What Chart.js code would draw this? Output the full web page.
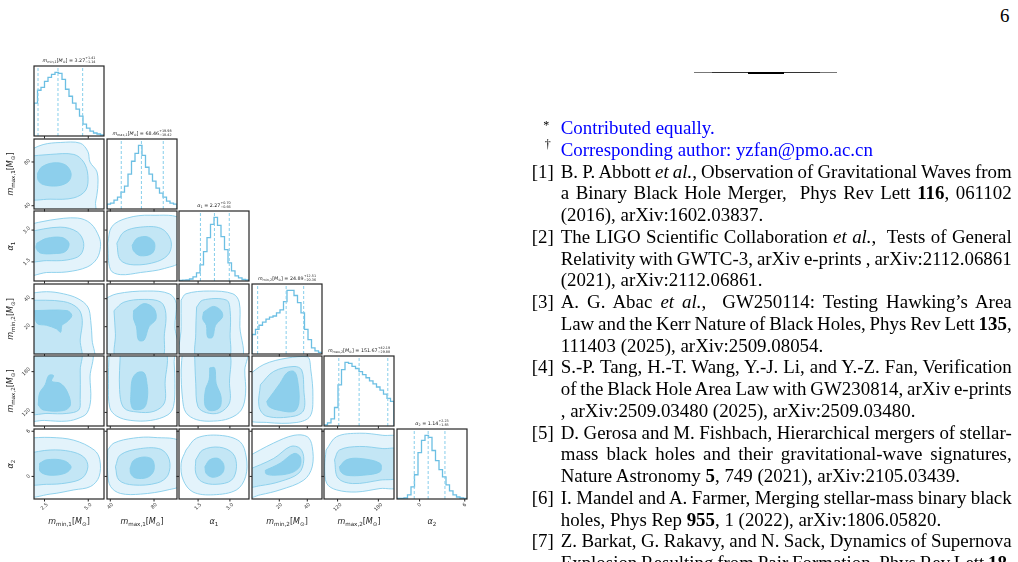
<!DOCTYPE html>
<html>
<head>
<meta charset="utf-8">
<script src="https://cdn.jsdelivr.net/npm/chart.js@4.4.1/dist/chart.umd.min.js"></script>
<style>
  html, body { margin: 0; padding: 0; background: #fff; }
  body { width: 1018px; height: 562px; overflow: hidden; position: relative; }
  #corner { position: absolute; left: 0; top: 0; width: 500px; height: 562px; }
  .panel { position: absolute; }
  .mlab { position: absolute; font-family: 'DejaVu Sans', sans-serif; color: #222; white-space: nowrap;
          transform: translate(-50%, -50%); line-height: 1; z-index: 5; }
  .mlab sub { font-size: 70%; vertical-align: baseline; position: relative; top: 0.3em; }
  .axt { font-size: 8px; }
  .axt.rot { transform: translate(-50%, -50%) rotate(-90deg); }
  .htitle { font-size: 4.8px; }
  .ud { display: inline-block; vertical-align: middle; font-size: 70%; line-height: 1.05; text-align: left; }
  .ud span { display: block; }

  #page { position: absolute; left: 0; top: 0; font-family: 'Liberation Serif', 'Times New Roman', serif;
          font-size: 18.9px; color: #000; }
  .pgno { position: absolute; left: 1000px; top: 4.5px; line-height: 21.75px; }
  .rule { position: absolute; }
  #refs { position: absolute; left: 0; top: 117.2px; line-height: 21.75px; }
  .ln { position: relative; height: 21.75px; margin-left: 560.7px; width: 451px; white-space: nowrap; }
  .blue { color: #0000ff; }
  .rn { position: absolute; left: -29px; top: 0; color: #000; }
  .mk { position: absolute; font-size: 12px; color: #000; line-height: 21.75px; }
</style>
</head>
<body>
<div id="corner"></div>

<div id="page">
  <div class="pgno">6</div>
  <div class="rule" style="left:694px;width:143px;top:72px;height:1px;background:#777"></div>
  <div class="rule" style="left:712px;width:108px;top:72px;height:1.3px;background:#333"></div>
  <div class="rule" style="left:748px;width:36px;top:72px;height:2.3px;background:#000"></div>
  <div id="refs">
    <div class="ln last blue"><span class="mk" style="left:-17.5px;top:-2px">*</span><span class="tx">Contributed equally.</span></div>
    <div class="ln last blue"><span class="mk" style="left:-16px;top:-5px">†</span><span class="tx">Corresponding author: yzfan@pmo.ac.cn</span></div>
    <div class="ln"><span class="rn">[1]</span><span class="tx">B. P. Abbott <i>et al.</i>, Observation of Gravitational Waves from</span></div>
    <div class="ln"><span class="tx">a Binary Black Hole Merger,&nbsp; Phys Rev Lett <b>116</b>, 061102</span></div>
    <div class="ln last"><span class="tx">(2016), arXiv:1602.03837.</span></div>
    <div class="ln"><span class="rn">[2]</span><span class="tx">The LIGO Scientific Collaboration <i>et al.</i>,&nbsp; Tests of General</span></div>
    <div class="ln"><span class="tx">Relativity with GWTC-3, arXiv e-prints , arXiv:2112.06861</span></div>
    <div class="ln last"><span class="tx">(2021), arXiv:2112.06861.</span></div>
    <div class="ln"><span class="rn">[3]</span><span class="tx">A. G. Abac <i>et al.</i>,&nbsp; GW250114: Testing Hawking’s Area</span></div>
    <div class="ln"><span class="tx">Law and the Kerr Nature of Black Holes, Phys Rev Lett <b>135</b>,</span></div>
    <div class="ln last"><span class="tx">111403 (2025), arXiv:2509.08054.</span></div>
    <div class="ln"><span class="rn">[4]</span><span class="tx">S.-P. Tang, H.-T. Wang, Y.-J. Li, and Y.-Z. Fan, Verification</span></div>
    <div class="ln"><span class="tx">of the Black Hole Area Law with GW230814, arXiv e-prints</span></div>
    <div class="ln last"><span class="tx">, arXiv:2509.03480 (2025), arXiv:2509.03480.</span></div>
    <div class="ln"><span class="rn">[5]</span><span class="tx">D. Gerosa and M. Fishbach, Hierarchical mergers of stellar-</span></div>
    <div class="ln"><span class="tx">mass black holes and their gravitational-wave signatures,</span></div>
    <div class="ln last"><span class="tx">Nature Astronomy <b>5</b>, 749 (2021), arXiv:2105.03439.</span></div>
    <div class="ln"><span class="rn">[6]</span><span class="tx">I. Mandel and A. Farmer, Merging stellar-mass binary black</span></div>
    <div class="ln last"><span class="tx">holes, Phys Rep <b>955</b>, 1 (2022), arXiv:1806.05820.</span></div>
    <div class="ln"><span class="rn">[7]</span><span class="tx">Z. Barkat, G. Rakavy, and N. Sack, Dynamics of Supernova</span></div>
    <div class="ln"><span class="tx">Explosion Resulting from Pair Formation, Phys Rev Lett <b>18</b>,</span></div>
  </div>
</div>

<script>
// ---- parameters ----
const paramLabels = [
  '<i>m</i><sub>min,1</sub>[<i>M</i><sub>⊙</sub>]',
  '<i>m</i><sub>max,1</sub>[<i>M</i><sub>⊙</sub>]',
  '<i>α</i><sub>1</sub>',
  '<i>m</i><sub>min,2</sub>[<i>M</i><sub>⊙</sub>]',
  '<i>m</i><sub>max,2</sub>[<i>M</i><sub>⊙</sub>]',
  '<i>α</i><sub>2</sub>'
];
const axisLo = [1.9, 37, 0.6, 0.5, 100, -3];
const axisHi = [5.9, 101, 3.9, 50.5, 203, 6.3];
const tickValues = [[2.5, 5.0], [40, 80], [1.5, 3.0], [20, 40], [120, 180], [0, 6]];
const tickLabels = [['2.5', '5.0'], ['40', '80'], ['1.5', '3.0'], ['20', '40'], ['120', '180'], ['0', '6']];

const medians  = [3.27, 68.46, 2.27, 24.89, 151.67, 1.14];
const errPlus  = [1.41, 19.98, 0.70, 12.51, 42.19, 2.23];
const errMinus = [1.14, 18.42, 0.66, 20.36, 29.88, 1.85];

// 1D histograms (20 bins over each axis range)
const histMmin1  = [33, 46, 49, 55, 59, 62, 64, 63, 57, 47, 40, 33, 27, 20, 12, 8, 5, 3, 2, 1];
const histMmax1  = [5, 6, 9, 12, 17, 23, 35, 48, 56, 64, 54, 42, 35, 28, 21, 16, 12, 8, 6, 5];
const histAlpha1 = [0.5, 0.8, 1, 2, 4, 8, 16, 29, 43, 56, 63, 55, 44, 31, 18, 10, 5, 3, 1.5, 1];
const histMmin2  = [19, 24, 28, 31, 34, 36, 37, 40, 43, 51, 62, 62, 57, 50, 40, 24, 14, 6, 3, 1.5];
const histMmax2  = [1, 3, 7, 18, 40, 55, 62, 61, 58, 56, 53, 50, 47, 44, 41, 38, 35, 31, 27, 24];
const histAlpha2 = [0.5, 0.6, 1, 4, 12, 24, 46, 58, 63, 61, 48, 38, 29, 22, 14, 8, 4, 2, 1, 0.5];
const histCounts = [histMmin1, histMmax1, histAlpha1, histMmin2, histMmax2, histAlpha2];

// 2D credible contours [outer, middle, inner], points as [x, y] in data units
const c1_0 = [
  [[1.5,89.5],[2.42,95.9],[3.4,97.8],[4.54,97.2],[4.98,89.5],[5.1,79.9],[5.5,70.9],[5.54,55.6],[5.42,43.4],[5.34,33],[1.5,33]],
  [[1.5,85],[2.82,86.9],[4.18,86.9],[4.74,79.9],[4.98,67.7],[4.86,54.3],[4.18,47.2],[2.82,46],[1.5,47.9]],
  [[2.1,69.6],[2.34,75.4],[3.02,79.2],[3.7,77.3],[4.02,69.6],[3.86,62],[3.22,58.1],[2.42,59.4],[2.14,63.2]]
];
const c2_0 = [
  [[1.5,3.24],[2.82,3.47],[4.38,3.57],[5.14,3.31],[5.62,2.68],[5.7,2.22],[5.5,1.66],[4.94,1.26],[3.78,1.03],[2.62,1.0],[1.5,0.93]],
  [[1.5,2.91],[3.4,3.14],[4.38,2.91],[4.74,2.38],[4.54,1.82],[3.78,1.59],[2.62,1.56],[1.5,1.59]],
  [[2.06,2.38],[2.62,2.61],[3.5,2.65],[3.9,2.38],[3.7,1.99],[3.02,1.89],[2.26,1.92],[2.02,2.15]]
];
const c2_1 = [
  [[37.6,2.38],[41.5,3.17],[55.6,3.57],[77,3.7],[105,3.47],[105,1.59],[89.5,1.19],[67.7,1.0],[49.2,0.9],[40.2,1.13]],
  [[46,2.38],[52.4,2.91],[67.7,3.14],[86.3,3.08],[95.2,2.55],[94,1.92],[83.1,1.52],[61.6,1.36],[49.2,1.59]],
  [[60,2.28],[64.5,2.61],[74.1,2.68],[80.5,2.38],[78.6,1.92],[67.7,1.79],[61.3,2.02]]
];
const c3_0 = [
  [[1.5,43.5],[2.62,45],[3.58,43.5],[4.42,40],[4.98,34],[5.14,24.5],[5.22,10.5],[5.26,-3],[1.5,-3]],
  [[1.5,39],[3.58,38],[4.42,33],[4.66,24.5],[4.54,10.5],[4.54,-3],[1.5,-3]],
  [[1.94,31.5],[3.78,31.5],[4.06,28],[3.78,23.5],[3.5,21],[3.42,16],[3.18,18.5],[2.62,21],[2.06,22.5]]
];
const c3_1 = [
  [[33,39],[46,43.5],[74.1,45.5],[94,43.5],[100.4,36.5],[99.1,20],[101.5,-3],[33,-3]],
  [[43.4,31.5],[52.4,37.5],[70.9,39.5],[86.3,37.5],[90.8,29.5],[89.5,15],[86.3,-3],[46,-3],[44.7,15]],
  [[61.3,31.5],[70.9,36.5],[79.9,33],[81.8,25.5],[75.4,20],[70.9,10.5],[65.8,10.5],[63.9,20],[61.3,25.5]]
];
const c3_2 = [
  [[0.7,39],[0.93,43.5],[2.05,45.5],[3.14,43.5],[3.44,37.5],[3.47,20],[3.5,-3],[0.77,-3],[0.7,20]],
  [[1.43,34],[1.72,39],[2.84,39],[3.01,31.5],[3.01,15],[2.91,-3],[1.46,-3],[1.39,15]],
  [[1.76,30.5],[2.22,34.5],[2.58,31.5],[2.65,27],[2.32,21],[2.18,12.5],[1.95,12.5],[1.89,21],[1.72,25.5]]
];
const c4_0 = [
  [[1.5,210],[5.14,210],[5.1,172.1],[5.14,139.1],[4.94,119.6],[4.54,112.4],[3.78,107.2],[2.5,108.2],[1.5,110.3]],
  [[1.5,210],[4.54,210],[4.54,182.4],[4.54,139.1],[4.46,123.7],[3.78,118.5],[2.7,118.5],[1.5,120.6]],
  [[2.14,130.9],[2.22,148.4],[2.54,160.8],[2.74,174.2],[3.02,174.2],[2.9,165.9],[3.4,162.8],[3.78,151.5],[3.98,130.9],[3.58,122.7],[2.42,123.7]]
];
const c4_1 = [
  [[38.9,210],[97.2,210],[98.4,192.7],[99.1,162.8],[97.8,128.8],[92.7,116.5],[77,108.2],[58.8,108.2],[46,114.4],[39.6,126.8],[38.3,162.8]],
  [[49.2,210],[89.5,210],[90.1,162.8],[89.5,134],[79.9,121.6],[64.5,120.6],[52.4,126.8],[48.5,153.6]],
  [[58.8,146.4],[60,168],[64.5,178.3],[70.9,178.3],[73.5,162.8],[74.1,144.3],[70.9,126.8],[61.3,124.7],[58.8,134]]
];
const c4_2 = [
  [[0.77,210],[3.77,210],[3.7,182.4],[3.74,148.4],[3.54,123.7],[2.98,111.3],[2.22,107.2],[1.43,109.3],[0.93,119.6],[0.77,139.1],[0.7,182.4]],
  [[1.33,210],[2.91,210],[2.98,162.8],[2.98,134],[2.51,119.6],[1.89,119.6],[1.49,128.8],[1.39,162.8]],
  [[2.05,185.5],[2.28,185.5],[2.35,162.8],[2.58,143.3],[2.51,126.8],[2.05,122.7],[1.82,130.9],[1.85,153.6],[2.02,168]]
];
const c4_3 = [
  [[-3,173.1],[9,190.6],[25.5,199.9],[40,202],[42.5,182.4],[44,143.3],[42,114.4],[32.5,105.2],[11,105.2],[-3,111.3]],
  [[6.5,160.8],[16,180.3],[30.5,187.6],[36,182.4],[37.5,153.6],[37.5,123.7],[30.5,114.4],[11,114.4],[5.5,128.8]],
  [[11,136],[20.5,162.8],[25.5,178.3],[30.5,180.3],[33,168],[34,134],[30.5,121.6],[18.5,123.7],[12.5,128.8]]
];
const c5_0 = [
  [[1.5,5.09],[2.82,5.18],[4.18,4.81],[5.34,3.51],[5.66,2.21],[5.62,-0.02],[5.14,-1.33],[4.18,-1.79],[2.82,-2.35],[1.5,-2.44]],
  [[1.5,3.05],[2.82,3.51],[3.98,3.32],[4.74,2.58],[4.98,1.28],[4.66,-0.21],[3.78,-0.86],[2.62,-1.05],[1.5,-0.86]],
  [[2.22,1.74],[2.62,2.21],[3.58,2.12],[4.02,1.28],[3.7,0.44],[2.82,0.16],[2.26,0.63]]
];
const c5_1 = [
  [[37.6,3.51],[43.4,4.44],[61.3,5.09],[79.9,5.18],[105,4.44],[105,-1.0],[92.7,-1.79],[67.7,-2.35],[49.2,-2.26],[40.2,-1.33],[37.6,0.44]],
  [[44.7,1.28],[49.2,2.86],[67.7,3.7],[86.3,3.6],[94,2.21],[92.7,0.16],[83.1,-0.86],[61.3,-1.14],[47.9,-0.49]],
  [[58.1,1.09],[61.3,2.12],[70.9,2.58],[78.6,2.21],[79.9,0.81],[74.1,-0.12],[63.2,-0.21],[58.8,0.35]]
];
const c5_2 = [
  [[0.93,3.51],[1.43,5.09],[2.51,5.46],[3.47,4.63],[3.77,2.58],[3.74,-0.02],[3.31,-1.79],[2.22,-2.44],[1.26,-2.07],[0.8,-0.49],[0.7,1.74]],
  [[1.39,2.21],[1.72,3.51],[2.51,3.88],[3.14,3.05],[3.31,1.28],[3.08,-0.49],[2.35,-1.05],[1.66,-0.68],[1.39,0.44]],
  [[1.82,1.28],[2.05,2.21],[2.45,2.39],[2.71,1.56],[2.65,0.44],[2.22,-0.12],[1.89,0.35]]
];
const c5_3 = [
  [[-3,2.58],[16,4.44],[30.5,5.46],[40,5.28],[43.5,3.98],[43.5,1.28],[37.5,-0.49],[20.5,-1.79],[6.5,-2.44],[-3,-2.72]],
  [[-3,0.81],[16,2.39],[28,3.98],[35,3.7],[37.5,2.21],[34,0.44],[20.5,-0.68],[6.5,-1.23],[-3,-1.33]],
  [[10,0.81],[20.5,1.74],[30.5,3.05],[35,2.58],[34.5,1.28],[28,0.44],[16,0.16],[10.5,0.35]]
];
const c5_4 = [
  [[103.1,3.51],[118.5,5.28],[152.5,5.74],[186.5,5.46],[210,5.09],[210,-1.3],[182.4,-1.61],[147.4,-2.07],[118.5,-1.79],[104.1,-0.95],[101,1.28]],
  [[115.5,2.21],[122.7,3.51],[152.5,3.98],[186.5,3.7],[210,3.51],[210,-0.02],[182.4,-0.49],[142.2,-0.95],[120.6,-0.21]],
  [[122.7,1.28],[133,2.21],[152.5,2.39],[182.4,1.74],[182.4,0.63],[157.7,0.16],[133,0.16],[124.7,0.63]]
];
const contours = {
  '1-0': c1_0, '2-0': c2_0, '2-1': c2_1, '3-0': c3_0, '3-1': c3_1, '3-2': c3_2,
  '4-0': c4_0, '4-1': c4_1, '4-2': c4_2, '4-3': c4_3,
  '5-0': c5_0, '5-1': c5_1, '5-2': c5_2, '5-3': c5_3, '5-4': c5_4
};

// ---- layout / style ----
const PANEL = 70, STEP = 72.6, X0 = 34, Y0 = 66, PAD = 30;
const fillColors = ['#e3f3fb', '#c3e6f5', '#8dcfec']; // outer, middle, inner
const lineColor = '#87ceeb';
const histColor = '#6cbfe3';
const corner = document.getElementById('corner');

function drawRot(ctx, txt, px, py, axis) {
  const w = ctx.measureText(txt).width, h = 3.7;
  const box = (w + h) / Math.SQRT2;
  const cx = axis === 'x' ? px : px - 3 - box / 2;
  const cy = axis === 'x' ? py + 3.5 + box / 2 : py;
  ctx.save();
  ctx.translate(cx, cy);
  ctx.rotate(-Math.PI / 4);
  ctx.fillText(txt, 0, 0);
  ctx.restore();
}

const panelFrame = {
  id: 'panelFrame',
  afterDatasetsDraw(chart, args, o) {
    const { ctx, chartArea: a, scales } = chart;
    ctx.save();
    ctx.strokeStyle = '#262626';
    ctx.fillStyle = '#333';
    ctx.font = '5px "DejaVu Sans"';
    ctx.textAlign = 'center';
    ctx.textBaseline = 'middle';
    ctx.lineWidth = 1;
    tickValues[o.xVar].forEach((v, k) => {
      const px = scales.x.getPixelForValue(v);
      ctx.beginPath(); ctx.moveTo(px, a.bottom); ctx.lineTo(px, a.bottom + 2.5); ctx.stroke();
      if (o.xLabels) drawRot(ctx, tickLabels[o.xVar][k], px, a.bottom, 'x');
    });
    if (o.yVar !== null) {
      tickValues[o.yVar].forEach((v, k) => {
        const py = scales.y.getPixelForValue(v);
        ctx.beginPath(); ctx.moveTo(a.left - 2.5, py); ctx.lineTo(a.left, py); ctx.stroke();
        if (o.yLabels) drawRot(ctx, tickLabels[o.yVar][k], a.left, py, 'y');
      });
    }
    ctx.lineWidth = 1.2;
    ctx.strokeRect(a.left, a.top, a.right - a.left, a.bottom - a.top);
    ctx.restore();
  }
};

function addLabel(html, cls, x, y) {
  const d = document.createElement('div');
  d.className = 'mlab ' + cls;
  d.innerHTML = html;
  d.style.left = x + 'px';
  d.style.top = y + 'px';
  corner.appendChild(d);
}

function makePanel(i, j) {
  const left = Math.round(X0 + STEP * j), top = Math.round(Y0 + STEP * i);
  const cv = document.createElement('canvas');
  cv.className = 'panel';
  cv.width = PANEL + 2 * PAD;
  cv.height = PANEL + 2 * PAD;
  cv.style.left = (left - PAD) + 'px';
  cv.style.top = (top - PAD) + 'px';
  corner.appendChild(cv);

  let datasets, yMin, yMax;
  if (i === j) {
    const counts = histCounts[j];
    const lo = axisLo[j], hi = axisHi[j], w = (hi - lo) / counts.length;
    const steps = [{ x: lo, y: 0 }];
    counts.forEach((c, k) => steps.push({ x: lo + k * w, y: c }));
    steps.push({ x: hi, y: counts[counts.length - 1] }, { x: hi, y: 0 });
    yMin = 0;
    yMax = 1.1 * Math.max(...counts);
    const qs = [medians[j] - errMinus[j], medians[j], medians[j] + errPlus[j]];
    datasets = qs.map(q => ({
      data: [{ x: q, y: 0 }, { x: q, y: yMax }],
      showLine: true, borderColor: lineColor, borderWidth: 1, borderDash: [3, 2], pointRadius: 0
    }));
    datasets.push({
      data: steps, showLine: true, stepped: true, borderColor: histColor, borderWidth: 1.3,
      pointRadius: 0, fill: false
    });
  } else {
    const levels = contours[i + '-' + j];
    yMin = axisLo[i];
    yMax = axisHi[i];
    datasets = levels.map((pts, k) => {
      const data = pts.map(p => ({ x: p[0], y: p[1] }));
      data.push({ x: pts[0][0], y: pts[0][1] });
      return {
        data, showLine: true, fill: 'shape', tension: 0.35,
        backgroundColor: fillColors[k], borderColor: lineColor, borderWidth: 0.9,
        pointRadius: 0, order: 2 - k
      };
    });
  }

  new Chart(cv, {
    type: 'scatter',
    data: { datasets },
    options: {
      responsive: false,
      animation: false,
      devicePixelRatio: 1,
      events: [],
      layout: { padding: PAD },
      scales: {
        x: { type: 'linear', display: false, min: axisLo[j], max: axisHi[j] },
        y: { type: 'linear', display: false, min: yMin, max: yMax }
      },
      plugins: {
        legend: { display: false },
        tooltip: { enabled: false },
        panelFrame: { xVar: j, yVar: i === j ? null : i, xLabels: i === 5, yLabels: j === 0 && i !== j }
      }
    },
    plugins: [panelFrame]
  });

  const cx = left + PANEL / 2;
  if (i === j) {
    const title = paramLabels[j] + ' = ' + medians[j].toFixed(2) +
      '<span class="ud"><span>+' + errPlus[j].toFixed(2) + '</span><span>−' + errMinus[j].toFixed(2) + '</span></span>';
    addLabel(title, 'htitle', cx, top - 5);
  }
  if (i === 5) addLabel(paramLabels[j], 'axt', cx, 522);
  if (j === 0 && i > 0) addLabel(paramLabels[i], 'axt rot', 11, top + PANEL / 2);
}

for (let i = 0; i < 6; i++) {
  for (let j = 0; j <= i; j++) makePanel(i, j);
}

// justify reference lines by adjusting word spacing (shrinks or stretches like TeX)
document.querySelectorAll('#refs .ln:not(.last)').forEach(ln => {
  const tx = ln.querySelector('.tx');
  const spaces = (tx.textContent.match(/[ \u00a0]/g) || []).length;
  const natural = tx.getBoundingClientRect().width;
  if (spaces > 0) tx.style.wordSpacing = ((ln.clientWidth - natural) / spaces) + 'px';
});
</script>
</body>
</html>
